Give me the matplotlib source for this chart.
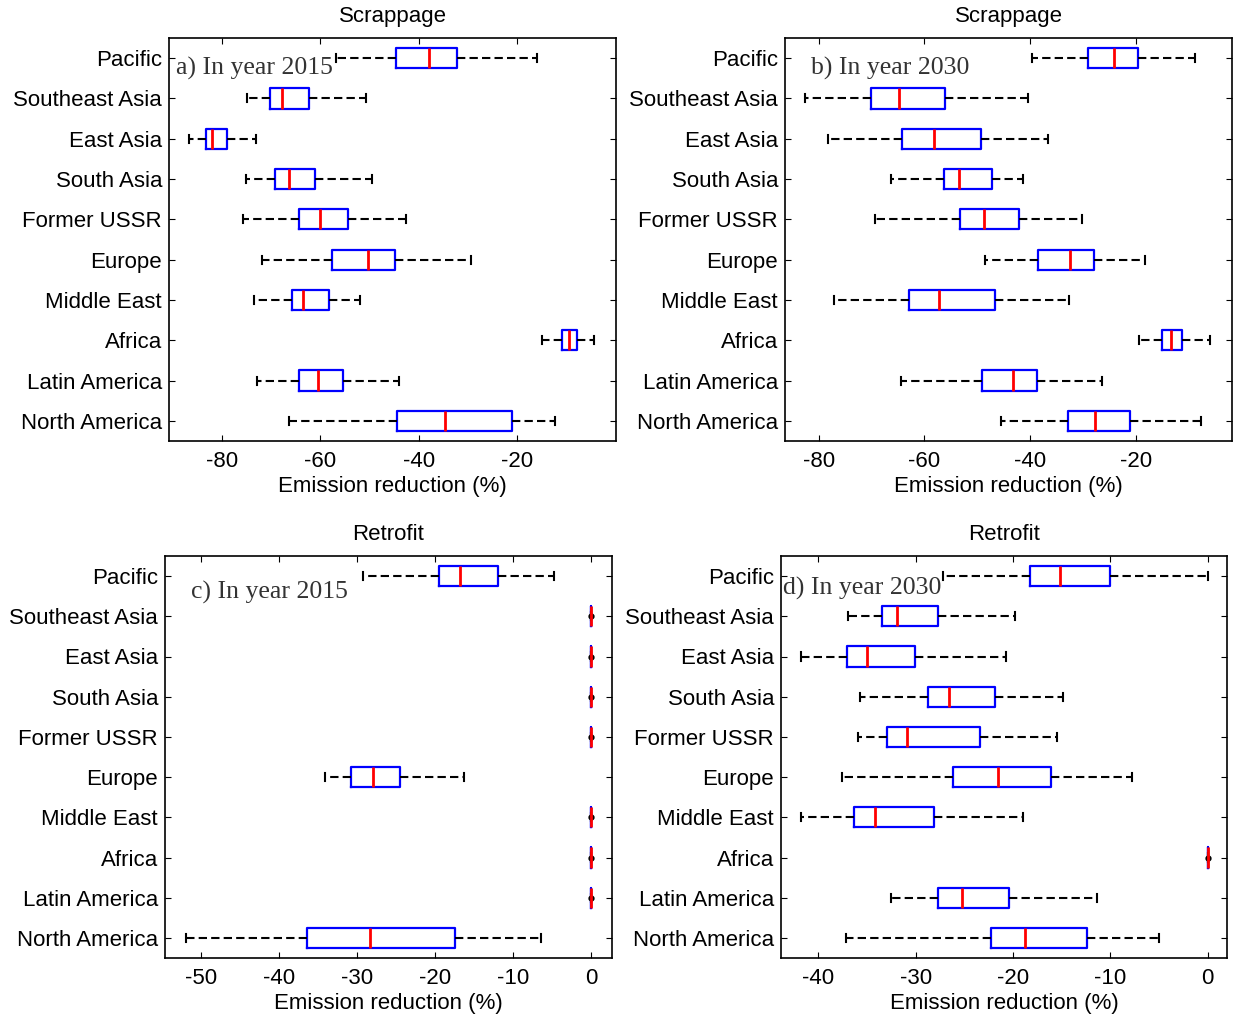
import numpy as np
import matplotlib.pyplot as plt

plt.rcParams['font.family'] = ['Liberation Sans', 'DejaVu Sans']

regions = ["Pacific", "Southeast Asia", "East Asia", "South Asia", "Former USSR",
           "Europe", "Middle East", "Africa", "Latin America", "North America"]

# Scrappage, 2015
a_lo = [-56.8, -74.9, -86.6, -75.1, -75.6, -71.8, -73.4, -15.0, -72.9, -66.4]
a_q1 = [-44.7, -70.2, -83.2, -69.1, -64.3, -57.7, -65.7, -11.0, -64.3, -44.5]
a_md = [-37.9, -67.8, -82.0, -66.4, -60.1, -50.3, -63.5, -9.6, -60.5, -34.6]
a_q3 = [-32.2, -62.2, -78.9, -61.0, -54.3, -44.9, -58.3, -7.9, -55.3, -21.2]
a_hi = [-16.1, -50.7, -73.0, -49.5, -42.7, -29.5, -51.9, -4.4, -44.1, -12.3]

# Scrappage, 2030
b_lo = [-39.6, -82.7, -78.2, -66.3, -69.4, -48.5, -77.1, -19.4, -64.5, -45.6]
b_q1 = [-29.1, -70.1, -64.2, -56.3, -53.2, -38.5, -62.9, -15.0, -49.1, -32.9]
b_md = [-24.2, -64.9, -58.2, -53.4, -48.7, -32.4, -57.2, -13.3, -43.3, -27.8]
b_q3 = [-19.6, -56.1, -49.3, -47.3, -42.1, -27.9, -46.6, -11.3, -38.7, -21.1]
b_hi = [-8.8, -40.4, -36.7, -41.4, -30.2, -18.2, -32.7, -5.9, -26.4, -7.6]

# Retrofit, 2015
c_lo = [-29.2, 0, 0, 0, 0, -34.1, 0, 0, 0, -51.9]
c_q1 = [-19.5, 0, 0, 0, 0, -30.8, 0, 0, 0, -36.4]
c_md = [-16.8, 0, 0, 0, 0, -28.0, 0, 0, 0, -28.3]
c_q3 = [-11.9, 0, 0, 0, 0, -24.5, 0, 0, 0, -17.5]
c_hi = [-4.8, 0, 0, 0, 0, -16.3, 0, 0, 0, -6.5]

# Retrofit, 2030
d_lo = [-27.2, -37.0, -41.8, -35.7, -35.9, -37.6, -41.8, 0, -32.5, -37.2]
d_q1 = [-18.3, -33.5, -37.1, -28.7, -32.9, -26.2, -36.3, 0, -27.7, -22.3]
d_md = [-15.2, -31.9, -35.0, -26.6, -30.9, -21.5, -34.2, 0, -25.2, -18.8]
d_q3 = [-10.0, -27.7, -30.1, -21.9, -23.4, -16.1, -28.1, 0, -20.4, -12.4]
d_hi = [0.0, -19.8, -20.7, -14.9, -15.5, -7.8, -19.0, 0, -11.4, -5.0]

panels = [
    ("Scrappage", "a) In year 2015", (a_lo, a_q1, a_md, a_q3, a_hi),
     [169, 38, 447, 403], (-90.7, 0.0), [-80, -60, -40, -20], (0.016, 0.925)),
    ("Scrappage", "b) In year 2030", (b_lo, b_q1, b_md, b_q3, b_hi),
     [785, 38, 447, 403], (-86.4, -1.8), [-80, -60, -40, -20], (0.058, 0.925)),
    ("Retrofit", "c) In year 2015", (c_lo, c_q1, c_md, c_q3, c_hi),
     [165, 556, 447, 402], (-54.55, 2.64), [-50, -40, -30, -20, -10, 0], (0.058, 0.91)),
    ("Retrofit", "d) In year 2030", (d_lo, d_q1, d_md, d_q3, d_hi),
     [781, 556, 446, 402], (-43.84, 1.99), [-40, -30, -20, -10, 0], (0.004, 0.92)),
]

W, H = 1238, 1017
fig = plt.figure(figsize=(W / 100, H / 100), dpi=100)

pos = np.arange(len(regions), 0, -1)

for title, tag, (lo, q1, md, q3, hi), box, xl, ticks, tpos in panels:
    l, t, w, h = box
    ax = fig.add_axes([l / W, 1 - (t + h) / H, w / W, h / H])
    stats = []
    for i in range(len(regions)):
        stats.append(dict(whislo=lo[i], q1=q1[i], med=md[i], q3=q3[i], whishi=hi[i],
                          fliers=[lo[i]] if lo[i] == hi[i] else []))
    ax.bxp(stats, positions=pos, vert=False, widths=0.5, capwidths=0.2,
           boxprops=dict(color='#0000ff', linewidth=1.6),
           medianprops=dict(color='#ff0000', linewidth=2, zorder=4),
           whiskerprops=dict(color='black', linewidth=1.5, linestyle=(0, (4, 2))),
           capprops=dict(color='black', linewidth=1.5),
           flierprops=dict(marker='o', markersize=3.5, markerfacecolor='black',
                           markeredgecolor='black', zorder=3))
    ax.set_ylim(0.5, 10.5)
    ax.set_xlim(*xl)
    ax.set_xticks(ticks)
    ax.set_xticklabels([str(v) for v in ticks])
    ax.set_yticks(pos)
    ax.set_yticklabels(regions)
    ax.tick_params(direction='in', top=True, right=True, length=4, width=0.8,
                   labelsize=16, colors='black')
    ax.tick_params(axis='x', pad=7)
    ax.tick_params(axis='y', pad=5)
    for s in ax.spines.values():
        s.set_linewidth(1.2)
    ax.set_title(title, fontsize=16, pad=11.5)
    ax.set_xlabel("Emission reduction (%)", fontsize=16, labelpad=3)
    ax.text(tpos[0], tpos[1], tag, transform=ax.transAxes, fontsize=18.5,
            family='Liberation Serif', color='#333333', va='center', ha='left')

fig.savefig("out.png", dpi=100)
